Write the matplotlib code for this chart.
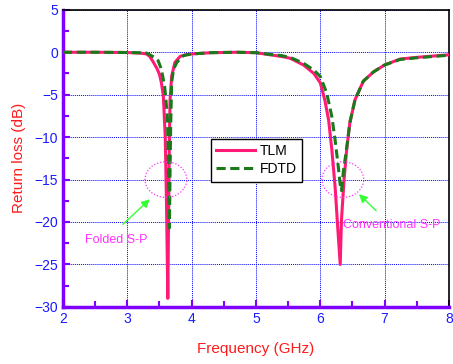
import matplotlib
matplotlib.use("Agg")
import matplotlib.pyplot as plt
from matplotlib.patches import Ellipse
from matplotlib.ticker import MultipleLocator

plt.rcParams["font.family"] = ["Liberation Sans", "DejaVu Sans"]

# TLM curve (frequency in GHz, return loss in dB)
tlm_f = [2.0, 2.5, 3.0, 3.2, 3.3, 3.35, 3.4, 3.46, 3.5, 3.53, 3.56, 3.59, 3.61, 3.63,
         3.645, 3.655, 3.665, 3.69, 3.74, 3.82, 3.9, 4.0, 4.3, 4.7, 5.0, 5.22,
         5.4, 5.53, 5.74, 5.9, 6.0, 6.07, 6.13, 6.18, 6.23, 6.27, 6.31, 6.33,
         6.37, 6.41, 6.46, 6.54, 6.67, 6.83, 7.0, 7.24, 7.5, 7.75, 8.0]
tlm_db = [0.0, 0.0, -0.03, -0.1, -0.2, -0.5, -1.1, -1.9, -2.6, -3.6, -5.1, -10.0, -18.0, -29.0,
          -17.0, -10.0, -5.6, -2.8, -1.2, -0.5, -0.3, -0.2, -0.05, 0.0, -0.05, -0.3,
          -0.5, -0.7, -1.5, -2.5, -3.6, -5.6, -8.0, -11.5, -15.8, -20.5, -25.0, -19.7,
          -15.0, -11.5, -8.3, -5.6, -3.4, -2.3, -1.5, -0.8, -0.6, -0.45, -0.3]

# FDTD curve
fdtd_f = [2.0, 2.5, 3.0, 3.2, 3.3, 3.35, 3.42, 3.48, 3.53, 3.58, 3.6, 3.625, 3.64, 3.655,
          3.665, 3.675, 3.69, 3.72, 3.77, 3.87, 4.0, 4.3, 4.7, 5.0, 5.22, 5.4, 5.53,
          5.74, 5.9, 6.0, 6.1, 6.18, 6.23, 6.28, 6.31, 6.33, 6.36, 6.41, 6.46, 6.54,
          6.67, 6.83, 7.0, 7.24, 7.5, 7.75, 8.0]
fdtd_db = [0.0, 0.0, -0.03, -0.06, -0.1, -0.3, -0.6, -1.0, -2.0, -4.0, -5.5, -8.0, -13.0, -20.7,
           -14.0, -8.5, -3.5, -2.0, -1.2, -0.4, -0.2, -0.05, 0.0, -0.05, -0.25, -0.4, -0.6,
           -1.3, -2.1, -2.85, -4.8, -7.6, -10.3, -13.5, -15.6, -16.3, -14.0, -11.3, -8.3, -5.6,
           -3.4, -2.3, -1.5, -0.85, -0.65, -0.5, -0.35]

purple = "#8000ff"
blue = "#1a1aff"

fig = plt.figure(figsize=(4.53, 3.64), dpi=100)
ax = fig.add_axes([0.139, 0.157, 0.852, 0.816])

ax.plot(tlm_f, tlm_db, color="#ff1a75", lw=2.2, label="TLM", zorder=3)
ax.plot(fdtd_f, fdtd_db, color="#1a7a1a", lw=2.2, ls=(0, (3, 1.5)), label="FDTD", zorder=4)

ax.set_xlim(2, 8)
ax.set_ylim(-30, 5)
ax.xaxis.set_major_locator(MultipleLocator(1))
ax.xaxis.set_minor_locator(MultipleLocator(0.5))
ax.yaxis.set_major_locator(MultipleLocator(5))
ax.yaxis.set_minor_locator(MultipleLocator(2.5))
ax.grid(True, which="major", color="#0000ff", ls=(0, (1, 1)), lw=0.7)

for s in ["left", "bottom"]:
    ax.spines[s].set_color(purple)
    ax.spines[s].set_linewidth(2.5)
for s in ["top", "right"]:
    ax.spines[s].set_color("black")
    ax.spines[s].set_linewidth(1.2)
ax.tick_params(which="both", direction="in", color=purple, width=1.5,
               labelcolor=blue, labelsize=10)
ax.tick_params(which="major", length=5)
ax.tick_params(which="minor", length=4)

ax.set_xlabel("Frequency (GHz)", color="#ff1a1a", fontsize=11, labelpad=12)
ax.set_ylabel("Return loss (dB)", color="#ff1a1a", fontsize=11, labelpad=6)

leg = ax.legend(loc="upper left", bbox_to_anchor=(0.365, 0.59), fancybox=False,
                edgecolor="black", framealpha=1, fontsize=10, handlelength=2.8,
                borderpad=0.4, labelspacing=0.3, handletextpad=0.3)
leg.get_frame().set_linewidth(1.0)

for cx in [3.6, 6.35]:
    ax.add_patch(Ellipse((cx, -15), 0.65, 4.2, fill=False, ec="#ff33ff",
                         ls=(0, (1, 1.5)), lw=0.9, zorder=5))

ax.annotate("", xy=(3.38, -17.1), xytext=(2.9, -20.5),
            arrowprops=dict(arrowstyle="-|>", color="#33ff33", lw=1.0,
                            mutation_scale=12))
ax.text(2.83, -22.1, "Folded S-P", color="#ff33ff", fontsize=9,
        ha="center", va="center")
ax.annotate("", xy=(6.57, -16.5), xytext=(6.9, -18.9),
            arrowprops=dict(arrowstyle="-|>", color="#33ff33", lw=1.0,
                            mutation_scale=12))
ax.text(6.36, -20.4, "Conventional S-P", color="#ff33ff", fontsize=9,
        ha="left", va="center")

fig.savefig("out.png", dpi=100)
